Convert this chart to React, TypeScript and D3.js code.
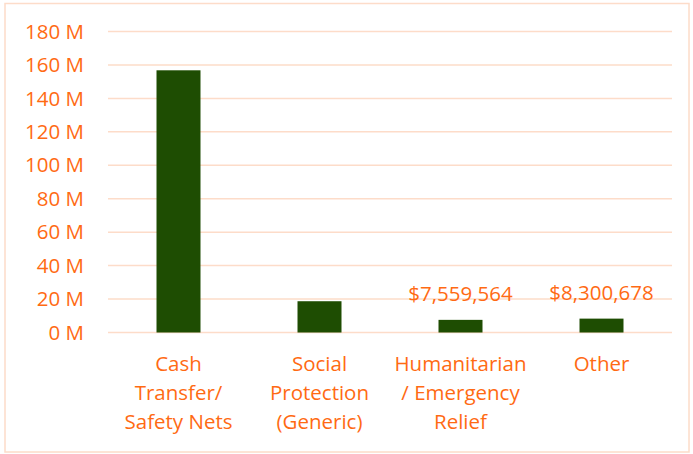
import React from "react";
import * as d3 from "d3";

const categories: string[][] = [
  ["Cash", "Transfer/", "Safety Nets"],
  ["Social", "Protection", "(Generic)"],
  ["Humanitarian", "/ Emergency", "Relief"],
  ["Other"],
];
const values: number[] = [156800000, 18700000, 7559564, 8300678];
const showLabel: boolean[] = [false, false, true, true];
const yTicks: number[] = [0, 20, 40, 60, 80, 100, 120, 140, 160, 180].map((v) => v * 1e6);

const W = 693;
const H = 454;
const ORANGE = "#FF6A13";
const GRID = "#FDDCC9";
const BAR = "#1E4D02";
const FONT = "Open Sans, sans-serif";
const FS = 20.5;

export default function App() {
  const left = 108;
  const right = 672;
  const top = 31.5;
  const bottom = 332.5;
  const x = d3
    .scaleBand<number>()
    .domain(values.map((_, i) => i))
    .range([left, right])
    .paddingInner(0.688)
    .paddingOuter(0.344);
  const y = d3.scaleLinear().domain([0, 180e6]).range([bottom, top]);
  const fmt = d3.format("$,.0f");

  return (
    <svg
      width={W}
      height={H}
      style={{ position: "absolute", left: 0, top: 0 }}
      fontFamily={FONT}
    >
      <rect x={0} y={0} width={W} height={H} fill="#fff" />
      <rect x={5} y={3.5} width={684} height={448.5} fill="none" stroke={GRID} strokeWidth={1.5} />
      {yTicks.map((t) => (
        <g key={t}>
          <line x1={left} x2={right} y1={y(t)} y2={y(t)} stroke={GRID} strokeWidth={1.5} />
          <text x={84} y={y(t)} dy="0.35em" textAnchor="end" fontSize={FS} fill={ORANGE}>
            {`${t / 1e6} M`}
          </text>
        </g>
      ))}
      {values.map((v, i) => (
        <rect key={i} x={x(i)} y={y(v)} width={x.bandwidth()} height={y(0) - y(v)} fill={BAR} />
      ))}
      {values.map((v, i) =>
        showLabel[i] ? (
          <text
            key={"l" + i}
            x={(x(i) as number) + x.bandwidth() / 2}
            y={y(v) - 19}
            textAnchor="middle"
            fontSize={FS}
            fill={ORANGE}
          >
            {fmt(v)}
          </text>
        ) : null
      )}
      {categories.map((lines, i) => (
        <text
          key={"c" + i}
          x={(x(i) as number) + x.bandwidth() / 2}
          textAnchor="middle"
          fontSize={FS}
          fill={ORANGE}
        >
          {lines.map((ln, j) => (
            <tspan key={j} x={(x(i) as number) + x.bandwidth() / 2} y={371 + j * 29}>
              {ln}
            </tspan>
          ))}
        </text>
      ))}
    </svg>
  );
}
